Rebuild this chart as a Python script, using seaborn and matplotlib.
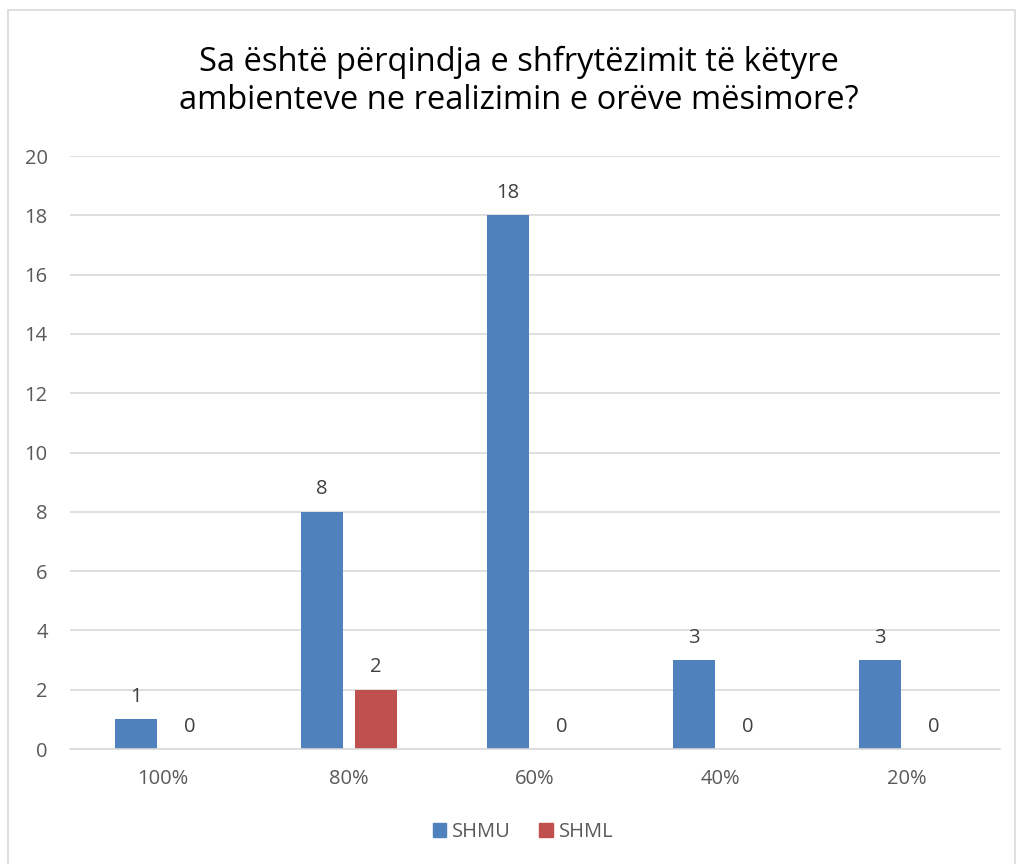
import matplotlib
matplotlib.use("Agg")
import matplotlib.pyplot as plt
import seaborn as sns
import pandas as pd
from matplotlib.patches import Rectangle

categories = ["100%", "80%", "60%", "40%", "20%"]
shmu = [1, 8, 18, 3, 3]
shml = [0, 2, 0, 0, 0]
series = ["SHMU", "SHML"]
colors = ["#4F81BD", "#C0504D"]
title = "Sa është përqindja e shfrytëzimit të këtyre\nambienteve ne realizimin e orëve mësimore?"

df = pd.DataFrame({
    "cat": categories * 2,
    "val": shmu + shml,
    "series": [series[0]] * len(categories) + [series[1]] * len(categories),
})

sns.set_theme(style="white")
plt.rcParams["font.family"] = ["Open Sans", "DejaVu Sans"]

fig = plt.figure(figsize=(10.16, 8.64), dpi=100)
ax = fig.add_axes([0.0689, 0.133, 0.915, 0.6864])

sns.barplot(data=df, x="cat", y="val", hue="series", order=categories,
            hue_order=series, palette=colors, width=0.575, gap=0.21,
            saturation=1, ax=ax, legend=False, linewidth=0)

ax.set_ylim(0, 20)
ax.set_yticks(range(0, 21, 2))
ax.set_xlim(-0.5, len(categories) - 0.5)
ax.yaxis.grid(True, color="#d9d9d9", linewidth=1.2)
ax.set_axisbelow(True)
for s in ["top", "right", "left"]:
    ax.spines[s].set_visible(False)
ax.spines["bottom"].set_color("#d9d9d9")
ax.spines["bottom"].set_linewidth(1.2)
ax.tick_params(axis="both", length=0, labelsize=14.5, colors="#595959")
ax.tick_params(axis="y", pad=16)
ax.tick_params(axis="x", pad=14)
ax.set_xlabel("")
ax.set_ylabel("")

for cont in ax.containers:
    ax.bar_label(cont, fmt="%g", padding=9, fontsize=14.5, color="#404040")

fig.text(0.5105, 0.906, title, ha="center", va="center", fontsize=23.5, color="#000000",
         linespacing=1.22)

handles = [Rectangle((0, 0), 1, 1, color=c) for c in colors]
fig.legend(handles, series, loc="center", bbox_to_anchor=(0.515, 0.037), ncol=2,
           frameon=False, fontsize=14.5, handlelength=0.65, handleheight=0.65,
           handletextpad=0.3, columnspacing=1.4, labelcolor="#595959")

fig.patches.append(Rectangle((0.008, -0.01), 0.991, 0.998, transform=fig.transFigure,
                             fill=False, edgecolor="#d9d9d9", linewidth=1.2))

fig.savefig("out.png", dpi=100)
